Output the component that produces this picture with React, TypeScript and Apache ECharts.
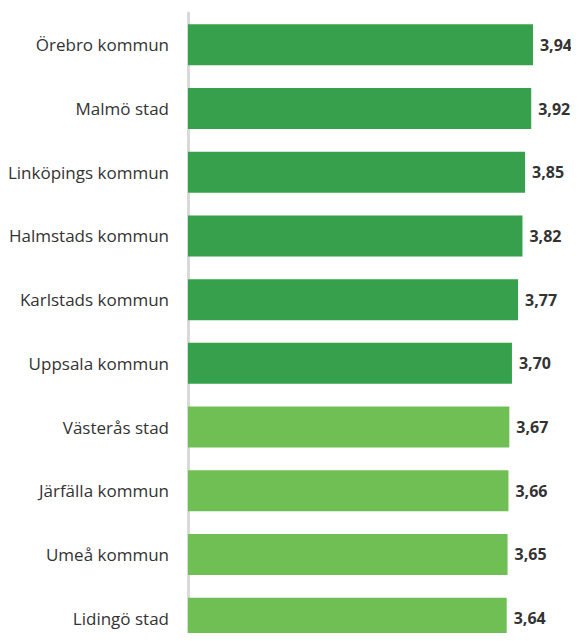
import React, { useEffect, useRef } from "react";
import * as echarts from "echarts";

const categories = [
  "Örebro kommun",
  "Malmö stad",
  "Linköpings kommun",
  "Halmstads kommun",
  "Karlstads kommun",
  "Uppsala kommun",
  "Västerås stad",
  "Järfälla kommun",
  "Umeå kommun",
  "Lidingö stad",
];
const values = [3.94, 3.92, 3.85, 3.82, 3.77, 3.7, 3.67, 3.66, 3.65, 3.64];
const topCount = 6;

export default function App() {
  const ref = useRef<HTMLDivElement>(null);
  useEffect(() => {
    if (!ref.current) return;
    const chart = echarts.init(ref.current, null, { renderer: "svg" });
    chart.setOption({
      animation: false,
      graphic: [
        {
          type: "rect",
          shape: { x: 0, y: 0, width: 579, height: 3 },
          style: { fill: "#d9ead3" },
        },
      ],
      grid: {
        left: 188,
        top: 13,
        width: 394,
        height: 637,
        outerBoundsMode: "none",
        containLabel: false,
      },
      xAxis: {
        type: "value",
        min: 0,
        max: 4.5,
        show: false,
      },
      yAxis: {
        type: "category",
        inverse: true,
        data: categories,
        axisLine: { show: true, lineStyle: { color: "#d9d9d9", width: 3 } },
        axisTick: { show: false },
        axisLabel: {
          margin: 19,
          color: "#333333",
          fontSize: 17,
          fontFamily: "Open Sans",
        },
      },
      series: [
        {
          type: "bar",
          barWidth: 41,
          data: values.map((v, i) => ({
            value: v,
            itemStyle: { color: i < topCount ? "#36a04c" : "#70bf54" },
          })),
          label: {
            show: true,
            position: "right",
            distance: 7,
            color: "#333333",
            fontWeight: "bold",
            fontSize: 16,
            fontFamily: "Open Sans",
            formatter: (p: any) => p.value.toFixed(2).replace(".", ","),
          },
        },
      ],
    });
    return () => chart.dispose();
  }, []);
  return (
    <div
      ref={ref}
      style={{ width: 579, height: 641, margin: -8 }}
    />
  );
}
